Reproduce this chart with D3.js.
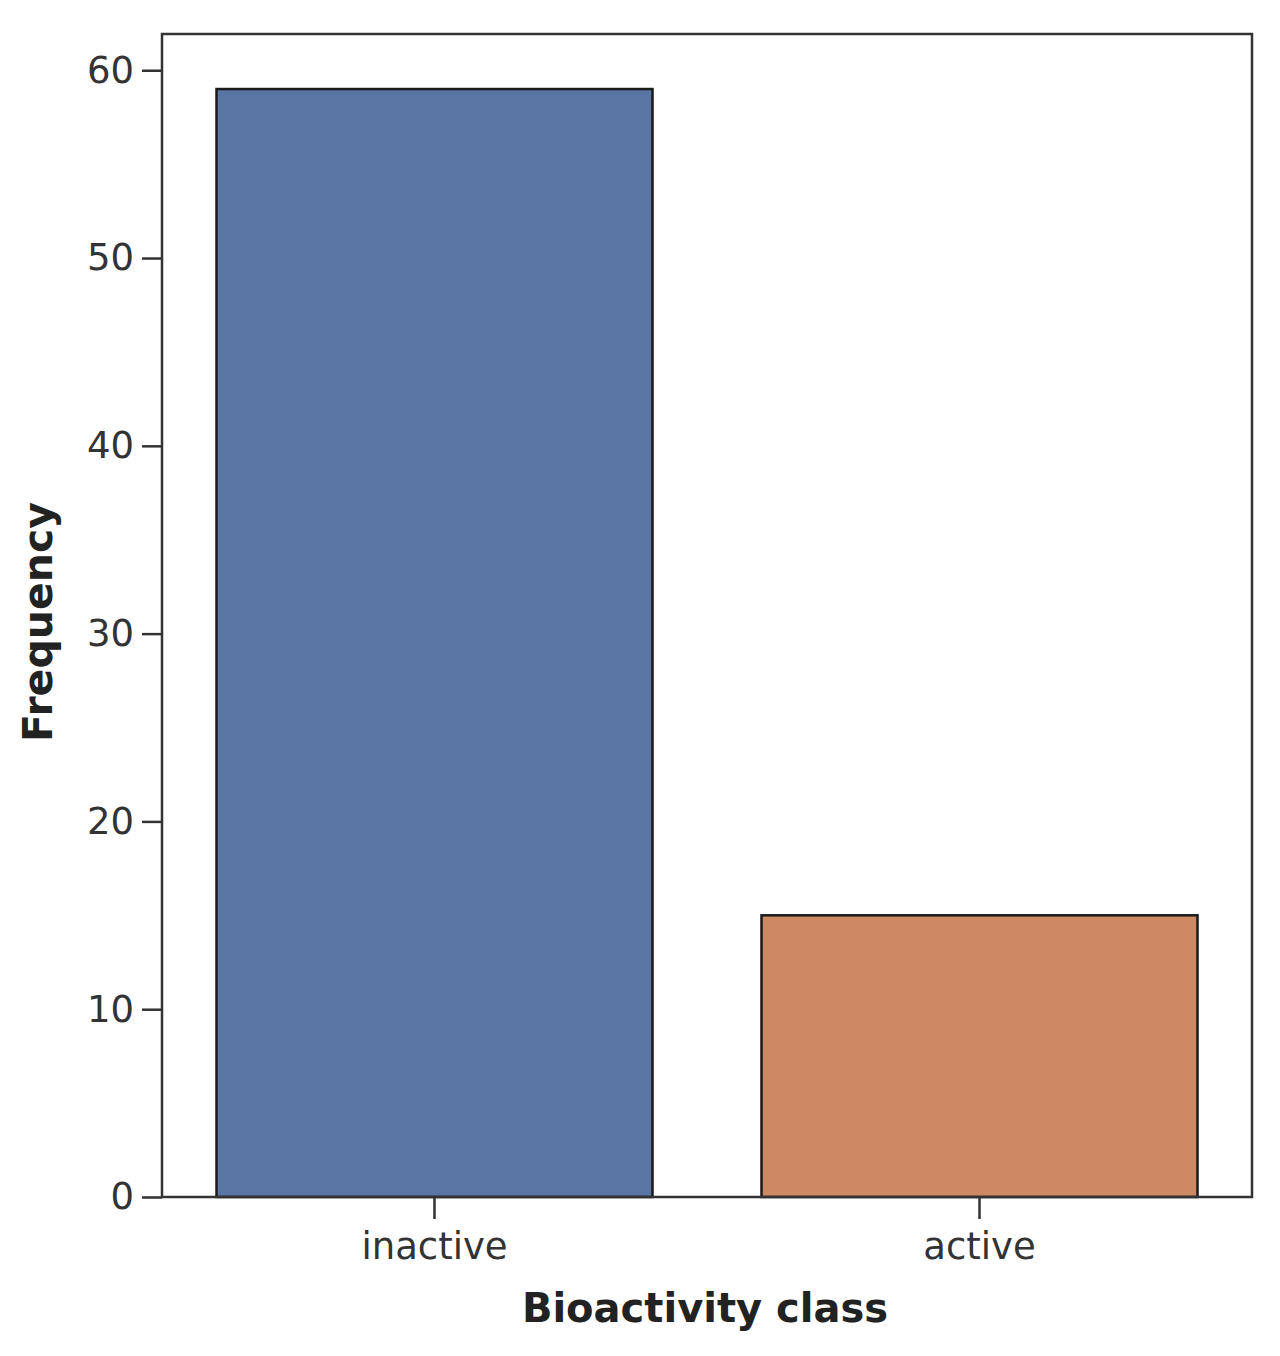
<!DOCTYPE html>
<html>
<head>
<meta charset="utf-8">
<script src="https://cdn.jsdelivr.net/npm/d3@7"></script>
<style>
  body { margin: 0; background: #fff; }
  text { font-family: "DejaVu Sans", sans-serif; }
</style>
</head>
<body>
<div id="chart"></div>
<script>
const categories = ["inactive", "active"];
const counts = [59, 15];
const colors = ["#5975a4", "#cc8963"];
const yTicks = [0, 10, 20, 30, 40, 50, 60];

const width = 1280, height = 1356;
const margin = { top: 34, right: 28, bottom: 159, left: 162 };

const svg = d3.select("#chart")
    .append("svg")
    .attr("width", width)
    .attr("height", height);

const x = d3.scaleBand()
    .domain(categories)
    .range([margin.left, width - margin.right])
    .paddingInner(0.2)
    .paddingOuter(0.1);

const y = d3.scaleLinear()
    .domain([0, 61.93])
    .range([height - margin.bottom, margin.top]);

// Bars
svg.selectAll(".bar")
    .data(categories)
    .enter()
    .append("rect")
    .attr("x", d => x(d))
    .attr("y", (d, i) => y(counts[i]))
    .attr("width", x.bandwidth())
    .attr("height", (d, i) => y(0) - y(counts[i]))
    .style("fill", (d, i) => colors[i])
    .style("stroke", "#1a1a1a")
    .style("stroke-width", 2.5);

// Axes
const yAxis = svg.append("g")
    .attr("transform", `translate(${margin.left},0)`)
    .call(d3.axisLeft(y).tickValues(yTicks).tickSize(20).tickPadding(8));

const xAxis = svg.append("g")
    .attr("transform", `translate(0,${height - margin.bottom})`)
    .call(d3.axisBottom(x).tickSize(22).tickPadding(14));

[yAxis, xAxis].forEach(a => {
    a.select(".domain").remove();
    a.selectAll(".tick line").style("stroke", "#333").style("stroke-width", 2.5);
    a.selectAll(".tick text")
        .style("font-size", "37px")
        .style("fill", "#333");
});

// Frame
svg.append("rect")
    .attr("x", margin.left)
    .attr("y", margin.top)
    .attr("width", width - margin.left - margin.right)
    .attr("height", height - margin.top - margin.bottom)
    .style("fill", "none")
    .style("stroke", "#333")
    .style("stroke-width", 2.5);

// Axis labels
svg.append("text")
    .attr("x", 705)
    .attr("y", 1322)
    .attr("text-anchor", "middle")
    .style("font-size", "40px")
    .style("font-weight", "bold")
    .style("fill", "#222")
    .text("Bioactivity class");

svg.append("text")
    .attr("transform", `translate(52,622) rotate(-90)`)
    .attr("text-anchor", "middle")
    .style("font-size", "41px")
    .style("font-weight", "bold")
    .style("fill", "#222")
    .text("Frequency");
</script>
</body>
</html>
